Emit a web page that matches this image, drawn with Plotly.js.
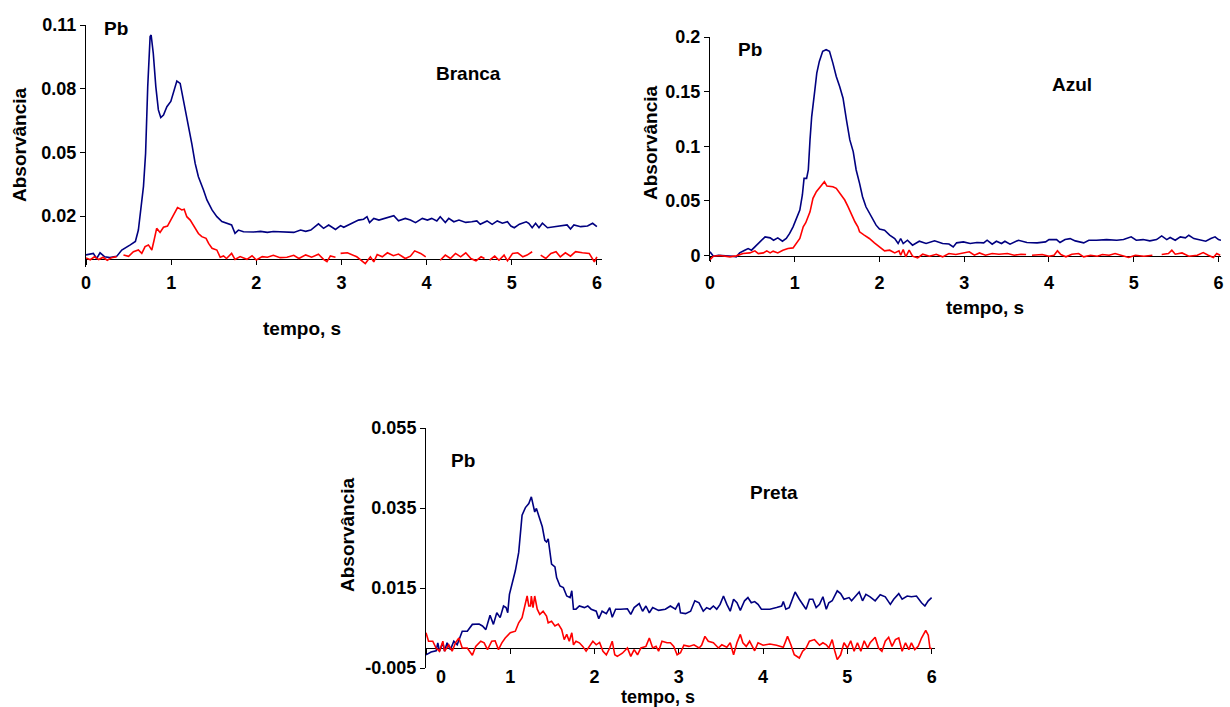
<!DOCTYPE html>
<html><head><meta charset="utf-8">
<script src="https://cdn.plot.ly/plotly-3.0.1.min.js"></script>
<style>html,body{margin:0;padding:0;background:#fff}#chart{width:1230px;height:707px}</style>
</head><body><div id="chart"></div>
<script>
// ---------- Branca ----------
const brancaBlueT = [0,0.086,0.125,0.165,0.22,0.28,0.36,0.42,0.52,0.58,0.615,0.655,0.675,0.70,0.725,0.753,0.765,0.79,0.82,0.85,0.878,0.91,0.95,0.996,1.027,1.067,1.106,1.133,1.165,1.204,1.243,1.282,1.32,1.38,1.42,1.48,1.537,1.596,1.655,1.71,1.75,1.79,1.85,1.97,2.05,2.13,2.2,2.28,2.36,2.44,2.52,2.58,2.64,2.73,2.79,2.85,2.93,2.99,3.027,3.09,3.145,3.2,3.26,3.3,3.33,3.38,3.44,3.5,3.56,3.615,3.67,3.75,3.81,3.87,3.95,4.01,4.06,4.12,4.16,4.22,4.26,4.32,4.38,4.46,4.53,4.59,4.63,4.71,4.77,4.83,4.89,4.95,4.99,5.03,5.09,5.17,5.2,5.24,5.28,5.32,5.36,5.42,5.5,5.57,5.65,5.69,5.73,5.81,5.89,5.95,6.0];
const brancaBlueY = [0.0017,0.0024,0.0,0.0027,0.0008,0.0004,0.001,0.004,0.0064,0.008,0.0134,0.0276,0.034,0.0496,0.081,0.1046,0.1053,0.0967,0.081,0.070,0.0664,0.0676,0.0715,0.074,0.0786,0.0836,0.0825,0.077,0.070,0.062,0.054,0.0448,0.0385,0.0323,0.0276,0.0229,0.0197,0.0174,0.0166,0.0158,0.0119,0.0134,0.0126,0.0125,0.0128,0.0123,0.0127,0.0126,0.0122,0.0123,0.0134,0.0128,0.0134,0.0163,0.0142,0.0158,0.0137,0.0155,0.0147,0.0158,0.0169,0.0181,0.0185,0.0197,0.0169,0.0189,0.0181,0.0189,0.0194,0.0202,0.0178,0.0189,0.0181,0.0169,0.0189,0.0181,0.0189,0.0177,0.0197,0.017,0.0189,0.0173,0.0181,0.017,0.0173,0.0177,0.0161,0.0177,0.0161,0.0177,0.0166,0.0173,0.0153,0.0145,0.0162,0.0173,0.0166,0.0145,0.0166,0.0145,0.0166,0.0145,0.015,0.0153,0.0158,0.0139,0.0158,0.015,0.0153,0.0166,0.015];
const brancaRedT = [0,0.05,0.1,0.15,0.2,0.25,0.3,0.36,0.40,0.44,0.5,0.557,0.615,0.655,0.694,0.733,0.773,0.8,0.83,0.87,0.91,0.957,1.008,1.047,1.075,1.1,1.125,1.153,1.184,1.224,1.282,1.32,1.36,1.41,1.44,1.48,1.537,1.576,1.615,1.65,1.71,1.75,1.81,1.89,1.95,2.0,2.07,2.13,2.2,2.28,2.36,2.44,2.5,2.58,2.65,2.73,2.79,2.83,2.87,2.93,2.96,2.99,3.07,3.18,3.28,3.34,3.38,3.42,3.48,3.54,3.61,3.67,3.75,3.81,3.86,3.93,3.99,4.08,4.16,4.22,4.28,4.34,4.4,4.46,4.52,4.58,4.64,4.68,4.71,4.74,4.8,4.85,4.91,4.95,5.01,5.07,5.13,5.18,5.24,5.29,5.34,5.4,5.46,5.52,5.57,5.63,5.69,5.75,5.83,5.91,5.97,6.0];
const brancaRedY = [0.0003,-0.0006,0.0008,-0.0005,0.0006,-0.0008,0.0004,0.0009,null,0.0017,0.001,0.0032,0.004,0.0024,0.0056,0.0064,0.004,0.0087,0.0142,0.0123,0.0147,0.0153,0.0189,0.0221,0.024,0.0235,0.0229,0.0232,0.0197,0.0181,0.0142,0.0118,0.0103,0.0095,0.0071,0.0048,0.004,0.0006,0.0012,0.0,0.0024,-0.0004,0.0009,-0.0004,0.0013,-0.0007,0.0009,0.0006,0.0015,0.0004,0.0006,0.0015,0.0,0.0017,0.0006,0.002,-0.0004,-0.0015,0.0012,0.0006,null,0.0024,0.0027,0.0008,-0.0024,0.0008,-0.0016,0.0019,0.0008,0.0027,0.0013,0.0021,0.0,0.0011,0.0036,0.0024,0.0008,null,-0.0008,0.0016,0.0,0.0024,0.0008,0.0027,0.0,-0.0011,0.0008,0.0,null,-0.0008,0.0011,-0.0008,0.0016,-0.0011,0.0024,0.0027,0.0008,0.0016,0.0032,null,0.0016,0.0,0.0024,0.0032,0.0008,0.0027,0.0011,0.0032,0.0027,0.0024,-0.0016,0.0008];

// ---------- Azul ----------
const azulBlueT = [0,0.04,0.1,0.2,0.27,0.31,0.35,0.41,0.45,0.49,0.55,0.61,0.65,0.71,0.75,0.8,0.855,0.9,0.94,0.98,1.02,1.06,1.09,1.11,1.14,1.16,1.18,1.2,1.235,1.26,1.29,1.33,1.37,1.41,1.45,1.49,1.53,1.57,1.61,1.65,1.69,1.725,1.765,1.8,1.84,1.9,1.96,2.0,2.06,2.12,2.18,2.22,2.25,2.28,2.33,2.39,2.47,2.55,2.65,2.745,2.82,2.87,2.91,2.99,3.07,3.15,3.23,3.27,3.33,3.38,3.44,3.48,3.54,3.64,3.74,3.86,3.96,4.0,4.09,4.13,4.19,4.25,4.31,4.41,4.47,4.56,4.68,4.8,4.88,4.97,5.03,5.11,5.19,5.27,5.33,5.39,5.43,5.49,5.55,5.61,5.65,5.71,5.77,5.85,5.91,5.96,6.0,6.03];
const azulBlueY = [0.0034,-0.0006,0.0003,0,-0.0006,-0.0012,0.0024,0.0049,0.0064,0.0049,0.0095,0.014,0.0171,0.0162,0.014,0.0162,0.0131,0.0156,0.0202,0.0263,0.034,0.0416,0.0554,0.0706,0.0706,0.0783,0.1058,0.1272,0.15,0.167,0.1777,0.1869,0.1884,0.1869,0.1761,0.1639,0.1547,0.144,0.1242,0.1058,0.0951,0.0783,0.066,0.0538,0.0446,0.0355,0.0278,0.0242,0.0232,0.0187,0.0156,0.011,0.0156,0.011,0.014,0.0095,0.0131,0.011,0.0135,0.011,0.0105,0.0079,0.0116,0.0125,0.011,0.0119,0.0116,0.014,0.0104,0.0131,0.011,0.0131,0.0104,0.014,0.0119,0.0116,0.0125,0.0146,0.0146,0.0119,0.0146,0.0155,0.0134,0.0116,0.014,0.014,0.0146,0.014,0.0146,0.0171,0.014,0.0146,0.0134,0.0146,0.018,0.0146,0.0165,0.014,0.0171,0.0162,0.0186,0.0155,0.0146,0.0131,0.0155,0.0171,0.0146,0.014];
const azulRedT = [0,0.04,0.12,0.235,0.31,0.39,0.47,0.53,0.57,0.63,0.67,0.71,0.745,0.8,0.86,0.92,0.98,1.02,1.06,1.1,1.13,1.18,1.215,1.255,1.29,1.33,1.35,1.38,1.45,1.49,1.53,1.59,1.63,1.67,1.71,1.745,1.765,1.82,1.88,1.94,2.0,2.06,2.12,2.18,2.23,2.25,2.28,2.31,2.35,2.39,2.45,2.51,2.59,2.67,2.745,2.82,2.9,2.98,3.06,3.12,3.18,3.25,3.33,3.41,3.51,3.59,3.67,3.73,3.76,3.8,3.92,4.0,4.06,4.1,4.14,4.2,4.27,4.35,4.41,4.49,4.57,4.63,4.71,4.78,4.86,4.94,5.02,5.12,5.22,5.27,5.33,5.41,5.45,5.49,5.57,5.65,5.75,5.82,5.88,5.94,5.98,6.02];
const azulRedY = [-0.0037,-0.0006,0,-0.0012,-0.0003,0.0018,0.0024,0.0043,0.0018,0.0024,0.0043,0.0024,0.004,0.0024,0.0049,0.0064,0.007,0.011,0.0156,0.0263,0.03,0.04,0.0523,0.0584,0.0615,0.0654,0.0676,0.0636,0.063,0.0615,0.0569,0.0508,0.0446,0.037,0.0309,0.0263,0.0217,0.0187,0.0156,0.0116,0.008,0.0043,0.0049,0.0024,0.0043,0.0003,0.0055,-0.0012,0.0049,-0.0006,-0.0021,0.0012,-0.0006,0.0012,-0.0012,0.0018,0.0009,0.0024,0.0034,0.0003,0.0024,0.0003,0.0018,0.0012,0.0018,0.0003,0.0012,0.0009,null,0.0003,0.0009,-0.0006,0.0003,0.0043,0.0009,-0.0012,0.0012,0.0018,-0.0012,0.0003,-0.0006,0.0009,0.0003,0.0018,0,-0.0018,0.0003,-0.0006,0.0003,null,0.0009,0.0018,0.0049,0.0012,0.0024,-0.0006,0.0003,0.0027,0.0003,-0.0018,0.0018,0.0003];

// ---------- Preta ----------
const pretaBlueT = [0,0.06,0.12,0.14,0.16,0.2,0.22,0.25,0.29,0.33,0.37,0.39,0.43,0.49,0.55,0.63,0.67,0.71,0.73,0.76,0.8,0.84,0.88,0.92,0.95,0.97,0.99,1.02,1.06,1.1,1.12,1.14,1.18,1.22,1.25,1.27,1.29,1.31,1.35,1.38,1.41,1.43,1.45,1.47,1.49,1.53,1.55,1.59,1.63,1.67,1.71,1.73,1.75,1.78,1.82,1.88,1.92,1.96,2.02,2.05,2.09,2.14,2.18,2.21,2.25,2.31,2.39,2.43,2.47,2.53,2.57,2.61,2.65,2.69,2.76,2.84,2.9,2.96,3.0,3.02,3.08,3.14,3.19,3.24,3.29,3.33,3.37,3.41,3.45,3.49,3.53,3.57,3.61,3.65,3.69,3.73,3.78,3.82,3.86,3.9,3.94,3.98,4.08,4.16,4.22,4.24,4.27,4.31,4.38,4.43,4.47,4.51,4.55,4.59,4.63,4.67,4.71,4.75,4.78,4.82,4.88,4.92,4.96,5.02,5.05,5.1,5.14,5.18,5.22,5.27,5.33,5.39,5.45,5.51,5.55,5.61,5.65,5.71,5.76,5.82,5.88,5.92,5.96,6.0];
const pretaBlueY = [-0.0017,-0.001,-0.0007,0.0013,-0.0008,0.0013,-0.0008,0.0013,-0.0004,0.0017,0.0008,0.0021,0.0042,0.0042,0.0059,0.006,0.0055,0.0046,0.0063,0.0082,0.0059,0.0088,0.0076,0.0105,0.0101,0.0088,0.0134,0.016,0.0193,0.0239,0.0277,0.0332,0.0351,0.0361,0.0378,0.0361,0.034,0.0349,0.0324,0.0303,0.0269,0.0265,0.0273,0.0239,0.021,0.0203,0.0176,0.0155,0.0151,0.013,0.0126,0.0143,0.0097,0.0097,0.0105,0.0101,0.0105,0.0097,0.0092,0.0073,0.0092,0.0086,0.0101,0.0077,0.0097,0.0097,0.0098,0.0084,0.0101,0.0111,0.0092,0.0105,0.0088,0.0101,0.0094,0.0097,0.0105,0.0097,0.0113,0.0088,0.0086,0.0092,0.0118,0.0113,0.0092,0.0101,0.0097,0.0105,0.0097,0.0109,0.013,0.0109,0.0092,0.0122,0.0113,0.0094,0.0118,0.0126,0.0113,0.0116,0.0109,0.0097,0.0097,0.0101,0.0105,0.0116,0.0097,0.0101,0.014,0.0122,0.0109,0.0097,0.0122,0.0122,0.0101,0.0109,0.0128,0.0097,0.0113,0.0118,0.0143,0.0136,0.0122,0.0126,0.0118,0.013,0.014,0.0118,0.0134,0.0128,0.0118,0.0133,0.0128,0.0109,0.0122,0.0136,0.0122,0.013,0.0128,0.013,0.0113,0.0105,0.0118,0.0126];
const pretaRedT = [0,0.03,0.08,0.12,0.16,0.2,0.22,0.27,0.31,0.35,0.39,0.43,0.49,0.55,0.59,0.65,0.69,0.73,0.78,0.82,0.86,0.9,0.94,1.0,1.06,1.1,1.14,1.18,1.2,1.22,1.24,1.25,1.27,1.29,1.32,1.35,1.39,1.43,1.45,1.49,1.53,1.57,1.61,1.64,1.67,1.7,1.73,1.75,1.78,1.82,1.86,1.9,1.94,1.98,2.02,2.06,2.1,2.14,2.18,2.21,2.24,2.27,2.33,2.39,2.43,2.47,2.51,2.55,2.61,2.65,2.69,2.73,2.76,2.8,2.86,2.9,2.94,2.98,3.02,3.06,3.12,3.18,3.24,3.27,3.31,3.35,3.41,3.47,3.51,3.57,3.61,3.65,3.69,3.73,3.76,3.8,3.84,3.9,3.94,4.0,4.08,4.16,4.24,4.29,4.33,4.37,4.43,4.47,4.51,4.55,4.61,4.67,4.71,4.75,4.78,4.82,4.85,4.88,4.92,4.96,5.0,5.04,5.08,5.12,5.16,5.2,5.24,5.27,5.33,5.37,5.41,5.45,5.49,5.53,5.57,5.61,5.65,5.69,5.73,5.76,5.8,5.84,5.88,5.93,5.96,5.98,6.0];
const pretaRedY = [0.0038,0.0017,0.0017,0,-0.0008,0.0017,-0.0008,0.0008,-0.0008,0.0013,0.0025,0,0,-0.0018,0.0004,0.0017,0.0013,-0.0004,0.0017,0.0018,-0.0004,0.0013,0.0025,0.0038,0.0042,0.0063,0.0076,0.0109,0.013,0.0105,0.0105,0.013,0.0101,0.013,0.0097,0.0084,0.0092,0.008,0.0063,0.0067,0.0055,0.006,0.0046,0.0021,0.0034,0.0017,0.0038,0.0008,0.0017,0.0013,0.0004,-0.0008,0.0004,0.0017,0.0008,0.0014,-0.0008,-0.0017,0,0.0017,-0.0017,-0.0021,-0.0013,0,-0.0021,-0.0004,-0.0017,0,0.0004,0.0025,0,0.0004,-0.0008,0.0017,0.0013,0.0013,0.0004,-0.0017,-0.0012,0.0007,0.0004,0.0008,0,0.0007,0.0029,0.0017,0.0013,0,0.0008,0.0002,0.0013,-0.0017,0.0013,0.0034,0.0013,0.0004,0.0017,-0.0007,0.0013,0.0007,0.001,0.0007,0.0002,0.0029,0.0008,-0.0017,-0.0025,-0.0008,0,0.0017,0.0021,0.0007,0.0013,0.0008,0,0.0021,-0.0007,-0.0029,-0.0017,0.0013,0,0.0018,-0.0008,0.0013,-0.0008,0.0018,0,0.0013,0.0027,0,-0.0008,0.0017,0.0027,0.0004,0.0021,0.0025,-0.0008,0.0013,-0.0004,0.0013,-0.0004,0.0004,0.0025,0.0044,0.0032,0,-0.0002];

// ---------- text ----------
const panelNames = ['Branca', 'Azul', 'Preta'];
const elementLabel = 'Pb';
const xTitle = 'tempo, s';
const yTitle = 'Absorvância';
const xTickVals = [0, 1, 2, 3, 4, 5, 6];
const xTickText = ['0', '1', '2', '3', '4', '5', '6'];
const xTickValsPreta = [1, 2, 3, 4, 5, 6];
const xTickTextPreta = ['1', '2', '3', '4', '5', '6'];
const xTickValsPretaZero = [0];
const xTickTextPretaZero = ['0'];
const yTickValsBranca = [0.02, 0.05, 0.08, 0.11];
const yTickTextBranca = ['0.02', '0.05', '0.08', '0.11'];
const yTickValsAzul = [0, 0.05, 0.1, 0.15, 0.2];
const yTickTextAzul = ['0', '0.05', '0.1', '0.15', '0.2'];
const yTickValsPreta = [-0.005, 0.015, 0.035, 0.055];
const yTickTextPreta = ['-0.005', '0.015', '0.035', '0.055'];

// ---------- layout (pixels) ----------
const W = 1230, H = 707;
const FONT = 'Liberation Sans, Arial, sans-serif';
const BLUE = '#000080', RED = '#ff0000';
const fx = p => p / W;
const fy = p => 1 - p / H;
const tickFont = {family: FONT, size: 18, color: '#000', weight: 700};

const panels = [
  {xd: [86, 602], yd: [25, 267], xr: [0, 6.06], yr: [-0.004, 0.11], yv: yTickValsBranca, yt: yTickTextBranca, xv: xTickVals, xt: xTickText, stand: 3,
   blue: [brancaBlueT, brancaBlueY], red: [brancaRedT, brancaRedY],
   pb: [116, 29], name: [468, 73], xtit: [302, 328], ytit: [20, 145], tsize: 19},
  {xd: [710, 1221], yd: [37, 261], xr: [0, 6.03], yr: [-0.005, 0.2], yv: yTickValsAzul, yt: yTickTextAzul, xv: xTickVals, xt: xTickText, stand: 6,
   blue: [azulBlueT, azulBlueY], red: [azulRedT, azulRedY],
   pb: [750, 49], name: [1072, 84], xtit: [985, 308], ytit: [650, 143], tsize: 19},
  {xd: [426, 935], yd: [428, 668], xr: [0, 6.04], yr: [-0.005, 0.055], yv: yTickValsPreta, yt: yTickTextPreta, xv: xTickValsPreta, xt: xTickTextPreta, stand: 7,
   blue: [pretaBlueT, pretaBlueY], red: [pretaRedT, pretaRedY],
   pb: [463, 460], name: [774, 492], xtit: [658, 697], ytit: [347, 535], tsize: 18}
];

const data = [];
const layout = {
  width: W, height: H,
  margin: {l: 0, r: 0, t: 0, b: 0},
  paper_bgcolor: '#fff', plot_bgcolor: 'rgba(0,0,0,0)',
  showlegend: false,
  font: {family: FONT, size: 18, color: '#000', weight: 700},
  annotations: []
};

panels.forEach((p, i) => {
  const n = i === 0 ? '' : String(i + 1);
  const xa = 'x' + n, ya = 'y' + n;
  data.push({x: p.blue[0], y: p.blue[1], xaxis: xa, yaxis: ya, type: 'scatter', mode: 'lines',
             line: {color: BLUE, width: 1.6}, hoverinfo: 'skip'});
  data.push({x: p.red[0], y: p.red[1], xaxis: xa, yaxis: ya, type: 'scatter', mode: 'lines',
             line: {color: RED, width: 1.6}, hoverinfo: 'skip', connectgaps: false});
  const yDom = [fy(p.yd[1]), fy(p.yd[0])];
  const zeroPos = yDom[0] + (0 - p.yr[0]) / (p.yr[1] - p.yr[0]) * (yDom[1] - yDom[0]);
  p.zeroPos = zeroPos;
  layout['xaxis' + n] = {
    domain: [fx(p.xd[0]), fx(p.xd[1])], range: p.xr, anchor: 'free', position: zeroPos,
    showgrid: false, zeroline: false, showline: true, linecolor: '#000', linewidth: 1,
    ticks: 'outside', ticklen: 5, tickcolor: '#000', tickwidth: 1,
    tickvals: p.xv, ticktext: p.xt, ticklabelstandoff: p.stand,
    tickfont: tickFont, layer: 'below traces', automargin: false, fixedrange: true
  };
  layout['yaxis' + n] = {
    domain: yDom, range: p.yr, anchor: xa,
    showgrid: false, zeroline: false, showline: true, linecolor: '#000', linewidth: 1,
    ticks: 'outside', ticklen: 5, tickcolor: '#000', tickwidth: 1,
    tickvals: p.yv, ticktext: p.yt,
    tickfont: tickFont, automargin: false, fixedrange: true
  };
  const ann = (pos, text, size, extra) => Object.assign({
    xref: 'paper', yref: 'paper', x: fx(pos[0]), y: fy(pos[1]), text: text, showarrow: false,
    xanchor: 'center', yanchor: 'middle',
    font: {family: FONT, size: size, color: '#000', weight: 700}
  }, extra || {});
  layout.annotations.push(ann(p.pb, elementLabel, 19));
  layout.annotations.push(ann(p.name, panelNames[i], 19));
  layout.annotations.push(ann(p.xtit, xTitle, p.tsize));
  layout.annotations.push(ann(p.ytit, yTitle, 19, {textangle: -90}));
});

// Preta: the "0" tick label sits a little to the right of the y axis, as in the reference
const p3 = panels[2];
data.push({x: [], y: [], xaxis: 'x4', yaxis: 'y3', type: 'scatter', mode: 'lines', hoverinfo: 'skip', showlegend: false});
layout.xaxis4 = {
  domain: [fx(p3.xd[0]), fx(p3.xd[1])], range: p3.xr, anchor: 'free', position: p3.zeroPos, overlaying: 'x3',
  showgrid: false, zeroline: false, showline: false,
  ticks: 'outside', ticklen: 5, tickcolor: '#000', tickwidth: 1,
  tickvals: xTickValsPretaZero, ticktext: xTickTextPretaZero, ticklabelstandoff: p3.stand, ticklabelshift: 15,
  tickfont: tickFont, automargin: false, fixedrange: true
};

Plotly.newPlot('chart', data, layout, {displayModeBar: false, staticPlot: true});
</script>
</body></html>
